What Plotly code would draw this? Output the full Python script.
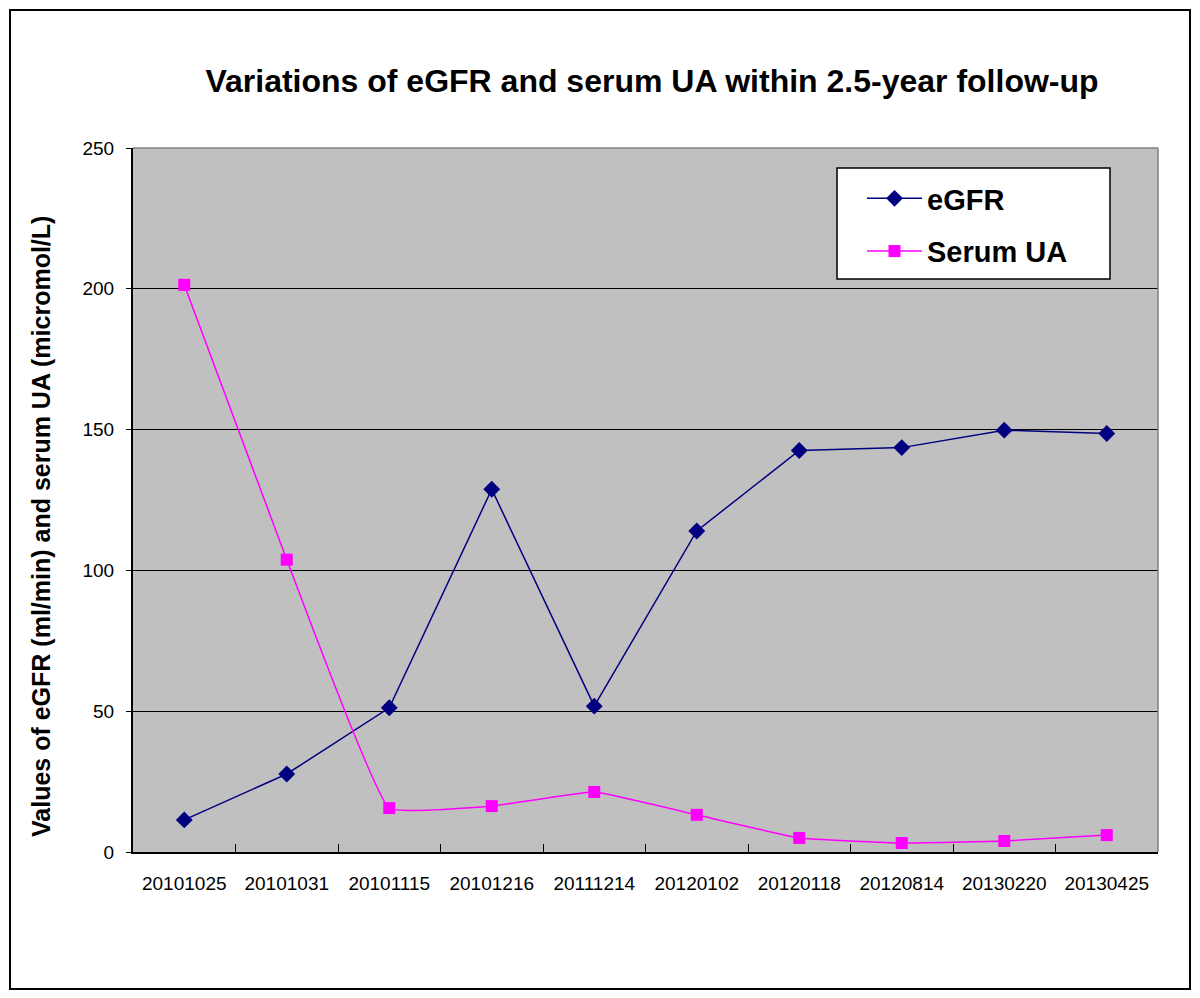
import plotly.graph_objects as go

dates = ['20101025', '20101031', '20101115', '20101216', '20111214',
         '20120102', '20120118', '20120814', '20130220', '20130425']
egfr = [11.4, 27.7, 51.2, 128.8, 51.8, 114.0, 142.6, 143.6, 149.8, 148.6]
serum_ua = [201.4, 103.8, 15.6, 16.3, 21.3, 13.2, 5.0, 3.2, 3.9, 6.0]

# page body has an 8px margin, so lay out in page pixels minus 8
OFF = 8
W, H = 1192, 990
L, T = 133 - OFF, 148 - OFF
R, B = W - (1158 - OFF), H - (852 - OFF)
pw, ph = W - L - R, H - T - B

def px_x(p):
    return (p - OFF - L) / pw

def px_y(p):
    return (H - B - (p - OFF)) / ph

FONT = 'Liberation Sans, Arial, sans-serif'

fig = go.Figure()

fig.add_trace(go.Scatter(x=dates, y=egfr, name='<b>eGFR</b>', mode='lines+markers',
                         line=dict(color='#000080', width=1.5),
                         marker=dict(symbol='diamond', size=13, color='#000080'),
                         legendgroup='a'))  # navy
fig.add_trace(go.Scatter(x=dates, y=serum_ua, name='<b>Serum UA</b>', mode='lines+markers',
                         line=dict(color='#FF00FF', width=1.5, shape='spline', smoothing=0.3),
                         marker=dict(symbol='square', size=12, color='#FF00FF'),
                         legendgroup='b'))  # magenta

fig.update_layout(
    width=W, height=H,
    margin=dict(l=L, r=R, t=T, b=B),
    paper_bgcolor='white', plot_bgcolor='#C0C0C0',
    font=dict(family=FONT, color='black'),
    title=dict(text='<b>Variations of eGFR and serum UA within 2.5-year follow-up</b>',
               x=px_x(652), xref='paper', xanchor='center',
               y=1 - (81 - OFF) / H, yref='container', yanchor='middle',
               font=dict(size=32)),
    showlegend=True,
    legend=dict(x=px_x(862), y=px_y(173), xanchor='left', yanchor='top',
                bgcolor='rgba(0,0,0,0)', borderwidth=0,
                font=dict(size=29, family=FONT),
                traceorder='grouped', tracegroupgap=12, itemwidth=55),
)

fig.update_xaxes(type='category', range=[-0.5, 9.5], showgrid=False,
                 showline=True, linecolor='black', linewidth=2,
                 ticks='inside', tickson='boundaries', ticklen=8, tickcolor='black',
                 tickfont=dict(size=19), ticklabelstandoff=13)
fig.update_yaxes(range=[0, 250], dtick=50, showgrid=True, gridcolor='black', gridwidth=1.3,
                 showline=True, linecolor='black', linewidth=2, zeroline=False,
                 ticks='outside', ticklen=5, tickcolor='black',
                 tickfont=dict(size=19), ticklabelstandoff=8)

# grey frame on top and right of plot area
fig.add_shape(type='line', xref='paper', yref='paper', x0=0, x1=1, y0=1, y1=1,
              line=dict(color='#808080', width=1.5))
fig.add_shape(type='line', xref='paper', yref='paper', x0=1, x1=1, y0=0, y1=1,
              line=dict(color='#808080', width=1.5))

# legend box
fig.add_shape(type='rect', xref='paper', yref='paper',
              x0=px_x(837), x1=px_x(1110), y0=px_y(279), y1=px_y(168),
              fillcolor='white', line=dict(color='black', width=1.5), layer='below')

# outer chart border
fig.add_shape(type='rect', xref='paper', yref='paper',
              x0=px_x(10), x1=px_x(1190), y0=px_y(989), y1=px_y(10),
              line=dict(color='black', width=2), layer='below')

fig.add_annotation(text='<b>Values of eGFR (ml/min) and serum UA (micromol/L)</b>',
                   xref='paper', yref='paper', x=px_x(41), y=px_y(527),
                   textangle=-90, showarrow=False, font=dict(size=25),
                   xanchor='center', yanchor='middle')

fig.write_html('out.html')
